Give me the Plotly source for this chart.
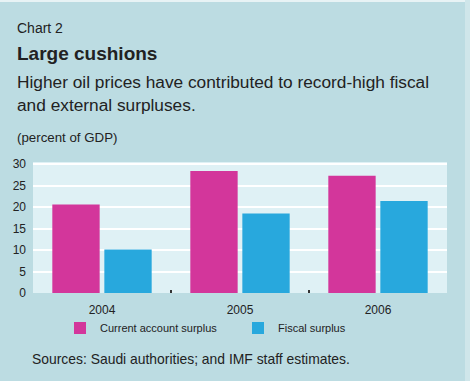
import plotly.graph_objects as go

years = ["2004", "2005", "2006"]
current_account = [20.6, 28.4, 27.3]
fiscal = [10.1, 18.5, 21.4]
y_ticks = [0, 5, 10, 15, 20, 25, 30]

W, H = 470, 381
L, R, T, B = 33, 447, 162, 293
FONT = "Liberation Sans, Arial, sans-serif"
BG = "#bcdce2"
PLOT_BG = "#dff1f5"
MAGENTA = "#d3369b"
BLUE = "#28a8dd"
TXT = "#222222"

def px(x):
    return (x - L) / (R - L)

def py(y):
    return (B - y) / (B - T)

fig = go.Figure()
fig.add_trace(go.Bar(x=years, y=current_account, name="Current account surplus",
                     marker=dict(color=MAGENTA, line=dict(width=0)), legend="legend"))
fig.add_trace(go.Bar(x=years, y=fiscal, name="Fiscal surplus",
                     marker=dict(color=BLUE, line=dict(width=0)), legend="legend2"))

leg_common = dict(orientation="h", xanchor="left", yanchor="middle",
                  bgcolor="rgba(0,0,0,0)", font=dict(size=11, family=FONT, color=TXT),
                  borderwidth=0)

fig.update_layout(
    width=W, height=H,
    margin=dict(l=L, r=W - R, t=T, b=H - B, autoexpand=False),
    paper_bgcolor=BG, plot_bgcolor=PLOT_BG,
    barmode="group", bargap=0.246, bargroupgap=0.09,
    font=dict(family=FONT, color=TXT, size=12),
    showlegend=True,
    legend=dict(x=px(60), y=py(328), **leg_common),
    legend2=dict(x=px(238), y=py(328), **leg_common),
)
fig.update_xaxes(showgrid=False, showline=False, ticks="inside", ticklen=3, tickwidth=2,
                 tickcolor="#333333", tickson="boundaries",
                 tickfont=dict(size=12, family=FONT, color=TXT), ticklabelstandoff=8)
fig.update_yaxes(range=[0, 30.5], tickvals=y_ticks, showgrid=True, gridcolor="white",
                 gridwidth=2, zeroline=False, showline=False,
                 tickfont=dict(size=12, family=FONT, color=TXT), ticklabelstandoff=6)

def note(text, x, y, size, bold=False, family=FONT):
    fig.add_annotation(text=("<b>%s</b>" % text) if bold else text,
                       xref="paper", yref="paper", x=px(x), y=py(y),
                       xanchor="left", yanchor="middle", showarrow=False,
                       font=dict(size=size, family=family, color=TXT))

note("Chart 2", 15, 28, 14)
note("Large cushions", 15, 53, 19, bold=True)
note("Higher oil prices have contributed to record-high fiscal", 15, 82, 17.3)
note("and external surpluses.", 15, 105, 17.3)
note("(percent of GDP)", 15, 137, 13.3)
note("Sources: Saudi authorities; and IMF staff estimates.", 30, 359, 13.9)

fig.add_shape(type="rect", xref="paper", yref="paper", x0=px(0), x1=px(W), y0=py(0), y1=py(2),
              fillcolor="#e8f3f5", line=dict(width=0), layer="below")
fig.add_shape(type="rect", xref="paper", yref="paper", x0=px(465), x1=px(W), y0=py(0), y1=py(H),
              fillcolor="#cfe6ea", line=dict(width=0), layer="below")

fig.write_html("out.html", config={"displayModeBar": False},
               post_script="document.body.style.margin='0';document.body.style.padding='0';"
                           "document.body.style.background='%s';" % BG)
